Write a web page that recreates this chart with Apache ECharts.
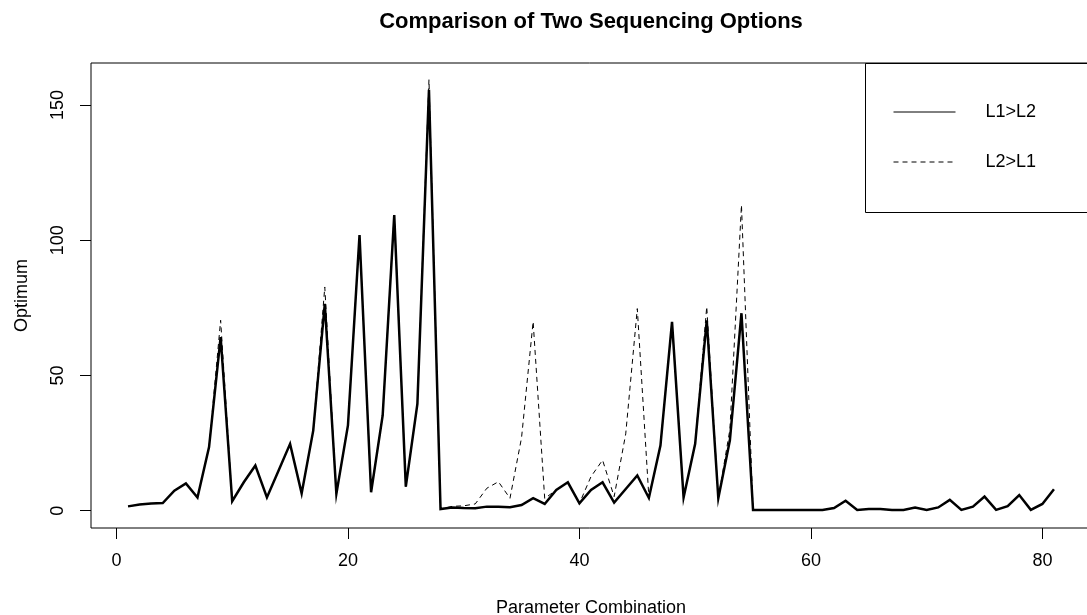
<!DOCTYPE html>
<html>
<head>
<meta charset="utf-8">
<script src="https://cdn.jsdelivr.net/npm/echarts@6/dist/echarts.min.js"></script>
<style>
  html, body {margin: 0; padding: 0; background: #fff;}
  #chart {width: 1087px; height: 615px;}
</style>
</head>
<body>
<div id="chart"></div>
<script>
// parameter combinations 1..81
const combos = Array.from({length: 81}, (_, i) => i + 1);

// L1>L2 (solid line)
const l1First = [
    1.6, 2.3, 2.7, 2.8, 7.4, 10.1, 4.9, 23.5, 64.2, 3.5,
    10.5, 16.7, 4.9, 14.8, 24.7, 6.4, 29.6, 76.5, 6.2, 31.5,
    101.9, 6.8, 35.2, 109.3, 8.9, 39.5, 155.6, 0.6, 1.2, 1.0,
    0.9, 1.5, 1.5, 1.3, 2.1, 4.6, 2.5, 7.7, 10.5, 2.7,
    7.7, 10.5, 3.0, 8.0, 13.0, 4.7, 24.1, 69.8, 4.9, 24.7,
    70.4, 4.6, 26.0, 73.0, 0.3, 0.3, 0.3, 0.3, 0.3, 0.3,
    0.3, 1.0, 3.7, 0.3, 0.6, 0.6, 0.3, 0.3, 1.2, 0.3,
    1.2, 4.0, 0.3, 1.5, 5.2, 0.3, 1.7, 5.8, 0.3, 2.5,
    7.9
];

// L2>L1 (dashed line)
const l2First = [
    1.6, 2.3, 2.7, 2.8, 7.4, 10.1, 4.9, 23.5, 70.4, 3.5,
    10.5, 16.7, 4.9, 14.8, 24.7, 6.4, 29.6, 82.7, 6.2, 31.5,
    101.9, 6.8, 35.2, 110.0, 8.9, 39.5, 159.3, 0.6, 1.6, 1.8,
    2.5, 8.3, 10.7, 4.6, 27.0, 69.9, 4.5, 7.7, 10.5, 2.7,
    12.6, 18.7, 5.2, 28.4, 74.7, 4.9, 24.1, 69.8, 4.9, 24.7,
    75.4, 4.6, 30.0, 113.0, 0.3, 0.3, 0.3, 0.3, 0.3, 0.3,
    0.3, 1.0, 3.7, 0.3, 0.6, 0.6, 0.3, 0.3, 1.2, 0.3,
    1.2, 4.0, 0.3, 1.5, 5.2, 0.3, 1.7, 5.8, 0.3, 2.5,
    7.9
];

const xTicks = [0, 20, 40, 60, 80];
const yTicks = [0, 50, 100, 150];

const font = 'Liberation Sans, Arial, sans-serif';
const chart = echarts.init(document.getElementById('chart'));

chart.setOption({
    animation: false,
    backgroundColor: '#fff',
    title: {
        text: 'Comparison of Two Sequencing Options',
        left: 591, top: 11, textAlign: 'center', padding: 0,
        textStyle: {fontFamily: font, fontSize: 22, fontWeight: 'bold', color: '#000'}
    },
    // legend frame runs off the right edge like the original
    graphic: [{
        type: 'rect', z: 10, silent: true,
        shape: {x: 865.5, y: 63.5, width: 240, height: 149},
        style: {fill: 'none', stroke: '#000', lineWidth: 1}
    }],
    legend: {
        orient: 'vertical',
        left: 865, top: 63,
        padding: [40, 0, 0, 28],
        itemWidth: 62, itemHeight: 20, itemGap: 32,
        itemStyle: {opacity: 0},
        textStyle: {fontFamily: font, fontSize: 18, color: '#000', padding: [0, 0, 0, 25]},
        data: [
            {name: 'L1>L2', lineStyle: {width: 1}},
            {name: 'L2>L1', lineStyle: {width: 1}}
        ]
    },
    grid: {
        left: 91, top: 63, width: 1000, height: 465, outerBoundsMode: 'none',
        show: true, borderColor: '#000', borderWidth: 1
    },
    xAxis: {
        type: 'value', min: -2.2, max: 84.2,
        name: 'Parameter Combination', nameLocation: 'middle', nameGap: 71,
        nameTextStyle: {fontFamily: font, fontSize: 18, color: '#000'},
        axisLine: {show: false, onZero: false},
        axisTick: {show: true, length: 11, customValues: xTicks, lineStyle: {color: '#000'}},
        axisLabel: {customValues: xTicks, margin: 24, fontFamily: font, fontSize: 18, color: '#000'},
        splitLine: {show: false}
    },
    yAxis: {
        type: 'value', min: -6.4, max: 165.5,
        name: 'Optimum', nameLocation: 'middle', nameGap: 60,
        nameTextStyle: {fontFamily: font, fontSize: 18, color: '#000'},
        axisLine: {show: false, onZero: false},
        axisTick: {show: true, length: 11, customValues: yTicks, lineStyle: {color: '#000'}},
        axisLabel: {customValues: yTicks, rotate: 90, margin: 24, fontFamily: font, fontSize: 18, color: '#000'},
        splitLine: {show: false}
    },
    series: [
        {
            name: 'L1>L2', type: 'line', symbol: 'none',
            data: combos.map((x, i) => [x, l1First[i]]),
            lineStyle: {color: '#000', width: 2.5, join: 'miter'}
        },
        {
            name: 'L2>L1', type: 'line', symbol: 'none',
            data: combos.map((x, i) => [x, l2First[i]]),
            lineStyle: {color: '#000', width: 1, type: [5, 4]}
        }
    ]
});
</script>
</body>
</html>
